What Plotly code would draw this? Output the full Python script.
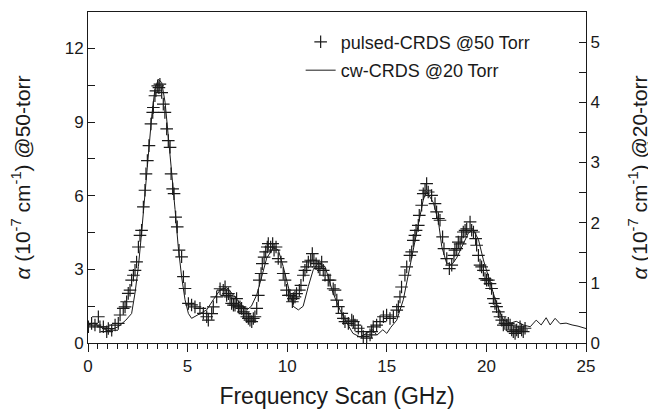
import plotly.graph_objects as go

# pulsed-CRDS @50 Torr (left axis, 1e-7 cm^-1)
pulsed_freq = [0.02, 0.18, 0.35, 0.52, 0.60, 0.77, 0.94, 1.02, 1.19, 1.36, 1.52, 1.61, 1.77, 1.86, 1.94,
               2.02, 2.11, 2.19, 2.28, 2.36, 2.44, 2.53, 2.61, 2.69, 2.78, 2.86, 2.91, 2.98, 3.06, 3.16,
               3.25, 3.28, 3.36, 3.41, 3.50, 3.56, 3.61, 3.70, 3.78, 3.86, 3.95, 4.03, 4.12, 4.17, 4.25,
               4.32, 4.40, 4.48, 4.57, 4.70, 4.79, 4.87, 5.04, 5.20, 5.37, 5.62, 5.79, 5.96, 6.04, 6.21,
               6.29, 6.46, 6.63, 6.79, 6.88, 6.96, 7.05, 7.13, 7.21, 7.30, 7.38, 7.46, 7.55, 7.63, 7.71,
               7.80, 7.88, 7.97, 8.05, 8.13, 8.22, 8.30, 8.38, 8.47, 8.55, 8.60, 8.69, 8.75, 8.84, 8.92,
               9.00, 9.05, 9.17, 9.27, 9.34, 9.44, 9.55, 9.69, 9.80, 9.89, 9.97, 10.06, 10.14, 10.26, 10.31,
               10.39, 10.47, 10.61, 10.69, 10.81, 10.89, 10.98, 11.06, 11.18, 11.26, 11.34, 11.45, 11.56, 11.64, 11.73,
               11.81, 11.90, 12.06, 12.15, 12.31, 12.40, 12.49, 12.57, 12.74, 12.82, 12.90, 13.07, 13.24, 13.32, 13.40,
               13.57, 13.74, 13.82, 13.99, 14.16, 14.24, 14.32, 14.49, 14.66, 14.83, 14.99, 15.16, 15.33, 15.50, 15.58,
               15.66, 15.74, 15.91, 16.00, 16.16, 16.25, 16.33, 16.41, 16.47, 16.58, 16.63, 16.75, 16.83, 16.92, 17.00,
               17.08, 17.25, 17.42, 17.50, 17.59, 17.67, 17.80, 17.87, 18.01, 18.14, 18.26, 18.37, 18.42, 18.51, 18.59,
               18.68, 18.76, 18.84, 18.93, 19.01, 19.18, 19.26, 19.35, 19.46, 19.51, 19.60, 19.68, 19.76, 19.85, 19.93,
               20.01, 20.10, 20.18, 20.26, 20.35, 20.43, 20.51, 20.60, 20.68, 20.77, 20.85, 20.93, 21.02, 21.10, 21.19,
               21.27, 21.35, 21.44, 21.52, 21.60, 21.69, 21.77, 21.85, 21.94]
pulsed_alpha = [0.66, 0.80, 0.73, 1.07, 0.66, 0.66, 0.46, 0.59, 0.52, 0.73, 0.80, 1.14, 1.41, 1.47, 1.68,
                2.02, 2.15, 2.56, 2.76, 2.96, 3.30, 3.91, 4.38, 4.59, 5.54, 6.22, 6.89, 7.43, 8.04, 8.92,
                9.39, 9.59, 10.07, 10.27, 10.47, 10.40, 10.54, 10.20, 9.73, 9.39, 8.72, 8.24, 7.97, 6.89, 6.28,
                6.08, 5.13, 4.73, 3.78, 3.51, 2.70, 2.22, 1.61, 1.55, 1.47, 1.41, 1.21, 1.07, 0.93, 1.20,
                1.47, 1.88, 2.21, 2.15, 2.29, 1.94, 2.01, 1.88, 1.61, 1.54, 1.54, 1.81, 1.47, 1.47, 1.41,
                1.27, 1.20, 1.07, 1.00, 0.93, 0.87, 1.00, 1.07, 1.41, 1.94, 2.56, 2.83, 3.23, 3.50, 3.71,
                3.91, 4.05, 3.91, 4.05, 3.78, 3.91, 3.44, 3.30, 2.83, 2.56, 2.15, 1.94, 1.94, 1.68, 1.81,
                1.88, 2.01, 2.15, 2.35, 2.76, 2.96, 3.10, 3.30, 3.37, 3.64, 3.37, 3.23, 3.10, 3.03, 3.30,
                2.96, 2.76, 2.56, 2.56, 2.21, 2.15, 1.75, 1.48, 1.21, 1.00, 0.87, 0.80, 0.93, 0.87, 0.73,
                0.60, 0.46, 0.26, 0.20, 0.33, 0.46, 0.66, 0.73, 0.87, 1.07, 1.14, 1.00, 1.07, 1.34, 1.48,
                1.88, 2.28, 2.76, 3.10, 3.57, 3.71, 4.18, 4.38, 4.59, 4.79, 5.20, 5.61, 6.08, 6.22, 6.49,
                6.15, 6.01, 5.68, 5.34, 5.07, 5.00, 4.32, 3.84, 3.44, 3.03, 3.17, 3.57, 3.78, 3.84, 4.11,
                4.04, 4.32, 4.52, 4.59, 4.65, 4.93, 4.59, 4.52, 4.25, 3.98, 3.57, 3.17, 3.10, 2.96, 2.62,
                2.56, 2.56, 2.42, 2.22, 1.81, 1.61, 1.48, 1.27, 1.07, 0.93, 0.73, 0.80, 0.73, 0.80, 0.73,
                0.53, 0.46, 0.39, 0.53, 0.46, 0.66, 0.53, 0.46, 0.60]

# cw-CRDS @20 Torr (right axis, 1e-7 cm^-1)
cw_freq = [0.0, 0.3, 0.6, 1.0, 1.3, 1.52, 1.9, 2.19, 2.36, 2.53, 2.69, 2.86, 3.03, 3.20, 3.36, 3.53, 3.70,
           3.87, 4.03, 4.20, 4.37, 4.53, 4.70, 4.87, 5.04, 5.20, 5.62, 5.96, 6.29, 6.63, 6.96, 7.30, 7.63,
           7.97, 8.20, 8.47, 8.72, 8.97, 9.30, 9.55, 9.80, 10.06, 10.30, 10.56, 10.80, 11.06, 11.31, 11.56,
           11.90, 12.30, 12.65, 13.00, 13.30, 13.65, 14.00, 14.30, 14.50, 14.80, 15.00, 15.20, 15.50, 15.83,
           16.16, 16.50, 16.83, 17.00, 17.34, 17.60, 17.76, 18.00, 18.26, 18.50, 18.84, 19.10, 19.34, 19.60,
           19.85, 20.20, 20.50, 20.85, 21.20, 21.50, 21.85, 22.20, 22.50, 22.75, 23.00, 23.20, 23.45, 23.70,
           24.00, 24.30, 24.60, 25.00]
cw_alpha = [0.30, 0.33, 0.27, 0.20, 0.24, 0.27, 0.38, 0.49, 0.83, 1.27, 1.83, 2.50, 3.16, 3.77, 4.22, 4.38, 4.33,
            4.00, 3.44, 2.88, 2.22, 1.60, 1.10, 0.72, 0.49, 0.41, 0.49, 0.55, 0.72, 0.88, 0.92, 0.80, 0.66,
            0.55, 0.61, 0.80, 1.10, 1.41, 1.58, 1.55, 1.27, 0.94, 0.61, 0.55, 0.61, 0.94, 1.22, 1.33,
            1.27, 0.83, 0.55, 0.33, 0.16, 0.10, 0.16, 0.22, 0.13, 0.22, 0.16, 0.26, 0.38, 0.72,
            1.27, 1.83, 2.38, 2.52, 2.33, 2.00, 1.60, 1.33, 1.30, 1.41, 1.66, 1.83, 1.88, 1.72,
            1.38, 1.00, 0.66, 0.38, 0.33, 0.36, 0.30, 0.27, 0.38, 0.30, 0.42, 0.30, 0.41, 0.32,
            0.33, 0.30, 0.28, 0.24]

x_ticks = [0, 5, 10, 15, 20, 25]
left_ticks = [0, 3, 6, 9, 12]
right_ticks = [0, 1, 2, 3, 4, 5]

FONT = "Liberation Sans, Arial, sans-serif"
INK = "#1a1a1a"

fig = go.Figure()
fig.add_trace(go.Scatter(
    x=pulsed_freq, y=pulsed_alpha, mode="markers", name="pulsed-CRDS @50 Torr",
    marker=dict(symbol="cross-thin", size=9, line=dict(width=1.2, color=INK), color=INK),
    legendgroup="a", yaxis="y"))
fig.add_trace(go.Scatter(
    x=cw_freq, y=cw_alpha, mode="lines", name="cw-CRDS @20 Torr",
    line=dict(color=INK, width=1), legendgroup="b", yaxis="y2"))

fig.update_layout(
    width=648, height=405,
    margin=dict(l=80, r=70, t=4, b=70, autoexpand=False),
    paper_bgcolor="white", plot_bgcolor="white",
    font=dict(family=FONT, size=17, color=INK),
    showlegend=True,
    legend=dict(x=0.427, y=0.965, xanchor="left", yanchor="top", bgcolor="rgba(0,0,0,0)",
                font=dict(size=18, family=FONT), tracegroupgap=2, itemwidth=30),
    xaxis=dict(range=[0, 25], tickvals=x_ticks, ticks="outside", ticklen=8, tickwidth=1,
               tickcolor=INK, showline=True, linecolor=INK, linewidth=1, mirror=True,
               showgrid=False, zeroline=False, tickfont=dict(size=17),
               minor=dict(dtick=0.5, ticks="outside", ticklen=5, tickcolor=INK, showgrid=False),
               title=dict(text="Frequency Scan (GHz)", font=dict(size=23), standoff=12)),
    yaxis=dict(range=[0, 13.48], tickvals=left_ticks, ticks="inside", ticklen=7, tickwidth=1,
               tickcolor=INK, showline=True, linecolor=INK, linewidth=1,
               showgrid=False, zeroline=False, tickfont=dict(size=17),
               minor=dict(dtick=1.5, ticks="inside", ticklen=7, tickcolor=INK, showgrid=False),
               title=dict(text="<i>α</i> (10<sup>-7</sup> cm<sup>-1</sup>) @50-torr",
                          font=dict(size=21), standoff=30)),
    yaxis2=dict(range=[0, 5.5], tickvals=right_ticks, overlaying="y", side="right",
                ticks="inside", ticklen=7, tickwidth=1, tickcolor=INK, showline=True,
                linecolor=INK, linewidth=1, showgrid=False, zeroline=False,
                tickfont=dict(size=17),
                minor=dict(dtick=0.5, ticks="inside", ticklen=7, tickcolor=INK, showgrid=False),
                title=dict(text="<i>α</i> (10<sup>-7</sup> cm<sup>-1</sup>) @20-torr",
                           font=dict(size=21), standoff=33)),
)

fig.write_html("out.html")
